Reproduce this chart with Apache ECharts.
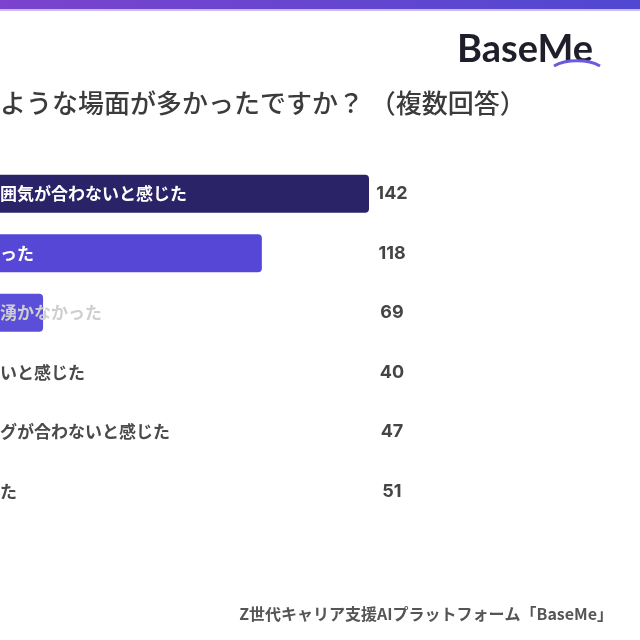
<!DOCTYPE html>
<html>
<head>
<meta charset="utf-8">
<script src="https://cdn.jsdelivr.net/npm/echarts@6/dist/echarts.min.js"></script>
<style>
html,body{margin:0;padding:0;background:#fff;}
#chart{width:640px;height:640px;}
</style>
</head>
<body>
<div id="chart"></div>
<script>
// ---- data ----
const categories = [
  'インターンシップ先での社員の雰囲気が合わないと感じた',
  '業務内容に興味・関心が持てなかった',
  '実際にその会社で働くイメージが湧かなかった',
  '給与や福利厚生など待遇が良くないと感じた',
  '選考日程や入社時期とのタイミングが合わないと感じた',
  '特に志望度が下がる場面はなかった'
];
const values = [142, 118, 69, 40, 47, 51];
const axisMax = 142;
const titleText = '選考やインターンで志望度が下がったのは、どのような場面が多かったですか？ （複数回答）';
const titlePrefixLen = 22;
const footerText = 'Z世代キャリア支援AIプラットフォーム「BaseMe」';
const logoText = 'BaseMe';

// ---- styles ----
const barColors = ['#2b2368', '#5647d6', '#5b4fd9', '#5b4fd9', '#5b4fd9', '#5b4fd9'];
const labelColors = ['#ffffff', '#ffffff', '#cfcfcf', '#4a4a4a', '#4a4a4a', '#4a4a4a'];
const jp = '"Noto Sans CJK JP", sans-serif';
const titleSize = 26;

const chart = echarts.init(document.getElementById('chart'), null, {renderer: 'canvas'});
const option = {
  animation: false,
  backgroundColor: '#ffffff',
  grid: {left: -265, right: 271, top: 164, bottom: 119, containLabel: false, outerBoundsMode: 'none'},
  xAxis: {type: 'value', min: 0, max: axisMax, show: false},
  yAxis: [
    {type: 'category', data: categories, inverse: true, show: false},
    {
      type: 'category', data: values.map(String), inverse: true, position: 'right',
      axisLine: {show: false}, axisTick: {show: false}, splitLine: {show: false},
      axisLabel: {margin: 23, align: 'center', fontSize: 18, fontWeight: 'bold', color: '#454545', fontFamily: 'Inter, sans-serif'}
    }
  ],
  series: [{
    type: 'bar',
    yAxisIndex: 0,
    barWidth: 38,
    itemStyle: {borderRadius: 4},
    data: values.map((v, i) => ({value: v, itemStyle: {color: barColors[i]}, label: {color: labelColors[i]}})),
    label: {
      show: true, position: 'insideLeft', distance: 10,
      formatter: p => categories[p.dataIndex],
      fontSize: 17, fontWeight: 'bold', fontFamily: jp
    }
  }],
  graphic: [
    {type: 'rect', shape: {x: 0, y: 0, width: 640, height: 9}, style: {fill: new echarts.graphic.LinearGradient(0, 0, 1, 0, [{offset: 0, color: '#7c43cd'}, {offset: 1, color: '#5048d2'}])}},
    {type: 'rect', shape: {x: 0, y: 9, width: 640, height: 2}, style: {fill: '#cbbcf2'}},
    {type: 'text', style: {text: logoText, x: 457, y: 50, verticalAlign: 'middle', font: 'bold 38px Lato, sans-serif', fill: '#1f1f2b'}},
    {type: 'bezierCurve', shape: {x1: 554, y1: 66, cpx1: 566, cpy1: 59, cpx2: 588, cpy2: 59, x2: 600, y2: 66}, style: {stroke: '#6a5bdc', lineWidth: 3, fill: null}},
    {type: 'text', style: {text: titleText, x: -titlePrefixLen * titleSize, y: 103, verticalAlign: 'middle', font: '500 ' + titleSize + 'px ' + jp, fill: '#3b3b3b'}},
    {type: 'text', style: {text: footerText, x: 613, y: 614, align: 'right', verticalAlign: 'middle', font: 'bold 16px ' + jp, fill: '#555555'}}
  ]
};
chart.setOption(option);
</script>
</body>
</html>
